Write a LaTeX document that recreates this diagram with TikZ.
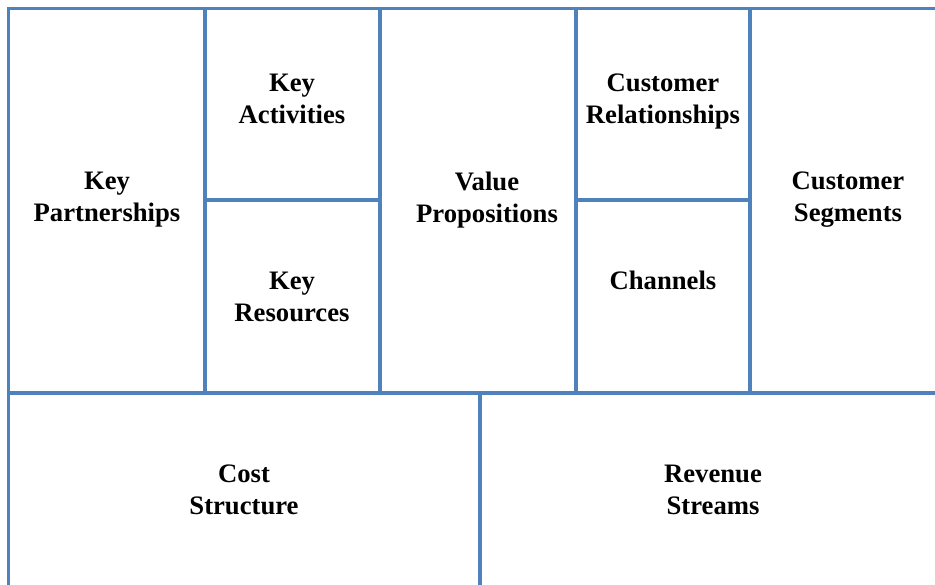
\documentclass[tikz,border=0pt]{standalone}
\usepackage{fontspec}
\setmainfont{Liberation Serif}
\definecolor{cellblue}{RGB}{79,129,189}
\tikzset{
  cell/.style={draw=cellblue, line width=2.3pt},
  celltext/.style={font=\bfseries\fontsize{20}{24}\selectfont, align=center, inner sep=0pt}
}

\begin{document}
\begin{tikzpicture}[x=0.75pt, y=-0.75pt]
  \useasboundingbox (0,0) rectangle (935,585);
  \clip (0,0) rectangle (935,585);
  % canvas cells
  \draw[cell] (8.5,8.5) rectangle (205,393);
  \draw[cell] (205,8.5) rectangle (380,200);
  \draw[cell] (205,200) rectangle (380,393);
  \draw[cell] (380,8.5) rectangle (576,393);
  \draw[cell] (576,8.5) rectangle (750,200);
  \draw[cell] (576,200) rectangle (750,393);
  \draw[cell] (750,8.5) rectangle (960,393);
  \draw[cell] (8.5,393) rectangle (480,610);
  \draw[cell] (480,393) rectangle (960,610);
  % labels
  \node[celltext] (partners) at (107,200) {Key\\Partnerships};
  \node[celltext] (activities) at (292,99) {Key\\Activities};
  \node[celltext] (resources) at (292,297) {Key\\Resources};
  \node[celltext] (value) at (487,200) {Value\\Propositions};
  \node[celltext] (relations) at (663,102) {Customer\\Relationships};
  \node[celltext] (channels) at (663,280) {Channels};
  \node[celltext] (segments) at (848,200) {Customer\\Segments};
  \node[celltext] (cost) at (244,490) {Cost\\Structure};
  \node[celltext] (revenue) at (713,490) {Revenue\\Streams};
\end{tikzpicture}
\end{document}
